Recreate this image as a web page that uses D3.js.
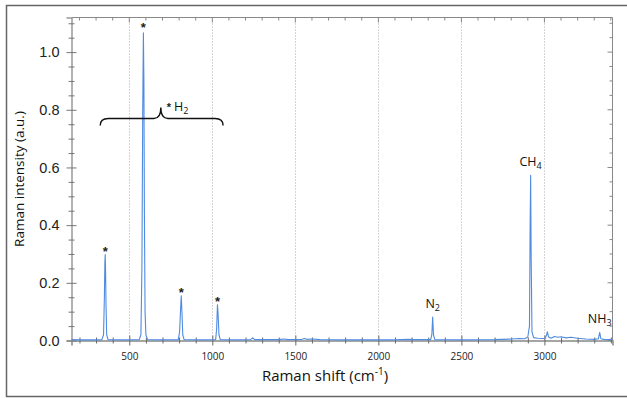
<!DOCTYPE html>
<html>
<head>
<meta charset="utf-8">
<script src="https://cdn.jsdelivr.net/npm/d3@7"></script>
<style>
  body { margin: 0; background: #fff; }
  svg { display: block; }
  .ytick text { font-family: "Liberation Sans", Arial, sans-serif; font-size: 14.5px; fill: #222; }
  .xtick text { font-family: "Open Sans", sans-serif; font-size: 10px; fill: #222; }
  .title { font-family: "Open Sans", sans-serif; font-size: 15px; fill: #111; }
  .ann { font-family: "Open Sans", sans-serif; font-size: 12.5px; fill: #111; }
  .star { font-family: "Liberation Sans", Arial, sans-serif; font-size: 13px; font-weight: bold; fill: #222; }
</style>
</head>
<body>
<svg id="chart" width="627" height="398"></svg>
<script>
// spectrum (Raman shift in cm-1, intensity in a.u.)
const shift = [152, 200, 300, 335, 345, 350, 353, 355, 357, 360, 364, 372, 450, 560, 570, 576, 581, 585, 588, 591, 595, 600, 610,
  700, 795, 803, 809, 813, 817, 822, 830, 950, 1020, 1026, 1031, 1035, 1040, 1048, 1150, 1230, 1243, 1255, 1400, 1430, 1460,
  1540, 1555, 1570, 1600, 1650, 1800, 2100, 2180, 2220, 2315, 2322, 2327, 2332, 2340, 2500, 2700, 2800, 2850, 2880, 2900,
  2910, 2914, 2917, 2920, 2925, 2935, 2960, 2990, 3005, 3013, 3018, 3025, 3040, 3060, 3080, 3100, 3130, 3160, 3200, 3250,
  3300, 3325, 3333, 3340, 3360, 3410];
const intensity = [0.003, 0.002, 0.002, 0.003, 0.02, 0.15, 0.27, 0.298, 0.25, 0.12, 0.02, 0.003, 0.002, 0.003, 0.02, 0.25, 0.8, 1.067, 0.9, 0.45, 0.1, 0.02, 0.003,
  0.002, 0.003, 0.03, 0.11, 0.155, 0.1, 0.02, 0.003, 0.002, 0.003, 0.04, 0.124, 0.09, 0.02, 0.003, 0.002, 0.003, 0.009, 0.003, 0.003, 0.005, 0.003,
  0.004, 0.007, 0.004, 0.005, 0.003, 0.002, 0.002, 0.004, 0.003, 0.003, 0.02, 0.081, 0.02, 0.003, 0.002, 0.003, 0.005, 0.007, 0.006, 0.012,
  0.05, 0.4, 0.573, 0.3, 0.03, 0.01, 0.008, 0.007, 0.008, 0.02, 0.03, 0.012, 0.008, 0.014, 0.011, 0.013, 0.009, 0.011, 0.008, 0.005,
  0.004, 0.006, 0.028, 0.006, 0.004, 0.003];

const xMajor = [500, 1000, 1500, 2000, 2500, 3000];
const xMinor = [200, 300, 400, 600, 700, 800, 900, 1100, 1200, 1300, 1400, 1600, 1700, 1800, 1900, 2100, 2200, 2300, 2400, 2600, 2700, 2800, 2900, 3100, 3200, 3300, 3400];
const yMajor = [0, 0.2, 0.4, 0.6, 0.8, 1.0];
const yMinor = [0.05, 0.1, 0.15, 0.25, 0.3, 0.35, 0.45, 0.5, 0.55, 0.65, 0.7, 0.75, 0.85, 0.9, 0.95, 1.05, 1.1];

// H2 lines marked with an asterisk
const h2Peaks = [355, 585, 813, 1031];
const h2Heights = [0.298, 1.067, 0.155, 0.124];

// labelled species: name, subscript, position of the label
const species = ["N", "CH", "NH"];
const speciesSub = ["2", "4", "3"];
const speciesX = [2327, 2917, 3333];
const speciesY = [0.081, 0.573, 0.028];

const svg = d3.select("#chart");
const margin = {left: 71.5, top: 17.5, right: 14.5, bottom: 57.5};
const W = 627, H = 398;

const x = d3.scaleLinear().domain([152, 3410]).range([margin.left, W - margin.right]);
const y = d3.scaleLinear().domain([0, 1.12]).range([H - margin.bottom, margin.top]);

// outer frame
svg.append("rect")
  .attr("x", 6.5).attr("y", 5.5).attr("width", 640).attr("height", 391)
  .attr("fill", "none").attr("stroke", "#666").attr("stroke-width", 1.5);

// dotted grid at the major x ticks
svg.append("g").selectAll("line").data(xMajor).join("line")
  .attr("x1", d => Math.round(x(d)) + 0.5).attr("x2", d => Math.round(x(d)) + 0.5)
  .attr("y1", y.range()[1]).attr("y2", y.range()[0])
  .attr("stroke", "#aaa").attr("stroke-width", 1).attr("stroke-dasharray", "1,2");

// top and right frame with inward ticks
const x0 = x.range()[0], x1 = x.range()[1], y0 = y.range()[0], y1 = y.range()[1];
svg.append("path")
  .attr("d", `M${x0},${y1}H${x1}V${y0}`)
  .attr("fill", "none").attr("stroke", "#888").attr("stroke-width", 1);

const topTicks = svg.append("g");
topTicks.selectAll("line.mj").data(xMajor).join("line")
  .attr("x1", d => x(d)).attr("x2", d => x(d)).attr("y1", y1).attr("y2", y1 + 5)
  .attr("stroke", "#888");
topTicks.selectAll("line.mn").data(xMinor).join("line")
  .attr("x1", d => x(d)).attr("x2", d => x(d)).attr("y1", y1).attr("y2", y1 + 3)
  .attr("stroke", "#888");
const rightTicks = svg.append("g");
rightTicks.selectAll("line.mj").data(yMajor).join("line")
  .attr("x1", x1).attr("x2", x1 - 5).attr("y1", d => y(d)).attr("y2", d => y(d))
  .attr("stroke", "#888");
rightTicks.selectAll("line.mn").data(yMinor).join("line")
  .attr("x1", x1).attr("x2", x1 - 3).attr("y1", d => y(d)).attr("y2", d => y(d))
  .attr("stroke", "#888");

// bottom axis, ticks crossing the line
const gx = svg.append("g").attr("class", "xtick").attr("transform", `translate(0,${y0})`)
  .call(d3.axisBottom(x).tickValues(xMajor).tickSize(5).tickPadding(7).tickFormat(d3.format("d")));
gx.selectAll(".tick line").attr("y1", -5).attr("stroke", "#666");
gx.select(".domain").attr("stroke", "#888").attr("stroke-width", 1.5);
const gxm = svg.append("g").attr("transform", `translate(0,${y0})`)
  .call(d3.axisBottom(x).tickValues(xMinor).tickSize(3).tickFormat(""));
gxm.selectAll(".tick line").attr("y1", -3).attr("stroke", "#666");
gxm.select(".domain").remove();

// left axis
const gy = svg.append("g").attr("class", "ytick").attr("transform", `translate(${x0},0)`)
  .call(d3.axisLeft(y).tickValues(yMajor).tickSize(5).tickPadding(7).tickFormat(d3.format(".1f")));
gy.selectAll(".tick line").attr("x1", 5).attr("stroke", "#777");
gy.select(".domain").attr("stroke", "#999").attr("stroke-width", 1.5);
const gym = svg.append("g").attr("transform", `translate(${x0},0)`)
  .call(d3.axisLeft(y).tickValues(yMinor).tickSize(3).tickFormat(""));
gym.selectAll(".tick line").attr("x1", 3).attr("stroke", "#777");
gym.select(".domain").remove();

// spectrum
const line = d3.line().x((d, i) => x(shift[i])).y(d => y(d));
svg.append("path")
  .datum(intensity)
  .attr("d", line)
  .attr("fill", "none")
  .attr("stroke", "#4f8be0")
  .attr("stroke-width", 1.1)
  .attr("stroke-linejoin", "round");

// asterisks above the H2 lines
svg.append("g").selectAll("text").data(h2Peaks).join("text")
  .attr("class", "star")
  .attr("x", d => x(d)).attr("y", (d, i) => y(h2Heights[i]) + (i === 1 ? -1 : 1))
  .attr("text-anchor", "middle")
  .text("*");

// curly brace grouping the H2 lines
const bx0 = x(325), bx1 = x(1065), bm = x(690), by = y(0.77);
svg.append("path")
  .attr("d", `M${bx0},${by + 7} Q${bx0},${by} ${bx0 + 8},${by} L${bm - 7},${by} Q${bm},${by} ${bm},${by - 11}`
    + ` Q${bm},${by} ${bm + 7},${by} L${bx1 - 8},${by} Q${bx1},${by} ${bx1},${by + 7}`)
  .attr("fill", "none").attr("stroke", "#111").attr("stroke-width", 1.4);

const h2 = svg.append("text").attr("class", "ann").attr("x", bm + 6).attr("y", by - 7.5);
h2.append("tspan").attr("class", "star").style("font-size", "11px").attr("dy", 0).text("*");
h2.append("tspan").attr("dx", 3).text("H");
h2.append("tspan").attr("dy", 3).style("font-size", "9px").text("2");

// species labels
species.forEach((s, i) => {
  const t = svg.append("text").attr("class", "ann")
    .attr("x", x(speciesX[i])).attr("y", y(speciesY[i]) - 9)
    .attr("text-anchor", "middle");
  t.append("tspan").text(s);
  t.append("tspan").attr("dy", 3).style("font-size", "9px").text(speciesSub[i]);
});

// axis titles
svg.append("text").attr("class", "title")
  .style("font-size", "13.5px")
  .attr("transform", `translate(24,${(y0 + y1) / 2}) rotate(-90)`)
  .attr("text-anchor", "middle")
  .text("Raman intensity (a.u.)");

const xt = svg.append("text").attr("class", "title")
  .attr("x", 325).attr("y", 381)
  .attr("text-anchor", "middle");
xt.append("tspan").text("Raman shift (cm");
xt.append("tspan").attr("dy", -6).style("font-size", "10px").text("-1");
xt.append("tspan").attr("dy", 6).text(")");
</script>
</body>
</html>
